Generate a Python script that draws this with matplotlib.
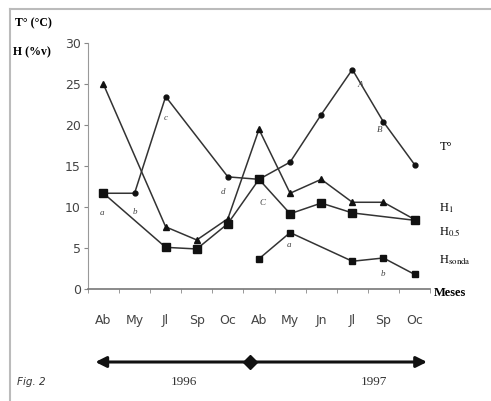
import numpy as np
import matplotlib
matplotlib.use("Agg")
import matplotlib.pyplot as plt
import matplotlib.transforms as mtrans
from matplotlib.lines import Line2D

plt.rcParams["mathtext.fontset"] = "stix"

months = ["Ab", "My", "Jl", "Sp", "Oc", "Ab", "My", "Jn", "Jl", "Sp", "Oc"]
nan = np.nan
temp = [11.7, 11.7, 23.5, nan, 13.7, 13.4, 15.5, 21.3, 26.8, 20.4, 15.2]
h1 = [25.0, nan, 7.6, 6.0, 8.6, 19.5, 11.7, 13.4, 10.6, 10.6, 8.5]
h05 = [11.7, nan, 5.1, 4.9, 8.0, 13.4, 9.2, 10.5, 9.3, nan, 8.4]
hsonda = [nan, nan, nan, nan, nan, 3.7, 6.9, nan, 3.4, 3.8, 1.8]

# small significance letters (label, x position, y value)
letters = [("a", -0.06, 9.3), ("b", 1.0, 9.4), ("c", 2.0, 20.9), ("d", 3.85, 11.8),
           ("C", 5.1, 10.5), ("a", 5.96, 5.4), ("b", 8.97, 1.8), ("A", 8.27, 24.9),
           ("B", 8.88, 19.4)]

fig = plt.figure(figsize=(4.91, 4.01), dpi=100)
ax = fig.add_axes([0.179, 0.279, 0.697, 0.613])
x = np.arange(len(months))

def draw(vals, marker, ms):
    v = np.array(vals, dtype=float)
    ok = ~np.isnan(v)
    ax.plot(x[ok], v[ok], color="#333333", lw=1.1, marker=marker, ms=ms,
            mfc="#111111", mec="#111111", clip_on=False)

draw(temp, "o", 3.5)
draw(h1, "^", 4.5)
draw(h05, "s", 5.5)
draw(hsonda, "s", 4)

for t, xi, yi in letters:
    ax.text(xi, yi, t, fontsize=6.5, family="Liberation Serif", color="#444444",
            ha="center", va="center", style="italic")

ax.set_xlim(-0.5, 10.5)
ax.set_ylim(0, 30)
ax.set_yticks(range(0, 31, 5))
ax.set_xticks(x)
ax.set_xticklabels(months)
ax.set_xticks(np.arange(-0.5, 11, 1), minor=True)
ax.tick_params(axis="x", which="major", length=0, pad=18, labelsize=9, labelcolor="#444444")
ax.tick_params(axis="x", which="minor", length=3, color="#888888")
ax.tick_params(axis="y", length=3, color="#888888", labelsize=9, labelcolor="#444444", pad=2)
for s in ["top", "right"]:
    ax.spines[s].set_visible(False)
ax.spines["left"].set_color("#999999")
ax.spines["bottom"].set_color("#777777")
ax.spines["bottom"].set_linewidth(1.2)

serif = "Liberation Serif"
ax.text(10.8, 17.3, "T°", fontsize=9, family=serif, va="center")
ax.text(10.8, 9.9, r"H$_\mathrm{1}$", fontsize=9, family=serif, va="center")
ax.text(10.8, 7.0, r"H$_\mathrm{0.5}$", fontsize=9, family=serif, va="center")
ax.text(10.8, 3.6, r"H$_\mathrm{sonda}$", fontsize=9, family=serif, va="center")
ax.text(10.62, -0.5, "Meses", fontsize=9, family=serif, weight="bold", va="center")

fig.text(15 / 491, 1 - 23 / 401, "T° (°C)", fontsize=8.5, family=serif, weight="bold", va="center")
fig.text(13 / 491, 1 - 52 / 401, "H (%v)", fontsize=8.5, family=serif, weight="bold", va="center")

# timeline arrow below the axis
blend = mtrans.blended_transform_factory(ax.transData, fig.transFigure)
ay = 1 - 362 / 401
ax.annotate("", xy=(10.4, ay), xytext=(-0.26, ay), xycoords=("data", "figure fraction"),
            textcoords=("data", "figure fraction"),
            arrowprops=dict(arrowstyle="<|-|>", lw=2.2, color="#111111", mutation_scale=16,
                            shrinkA=0, shrinkB=0))
ax.plot([4.7], [ay], marker="D", ms=7, color="#111111", transform=blend, clip_on=False)
ty = 1 - 382 / 401
ax.text(2.6, ty, "1996", fontsize=9.5, family=serif, ha="center", va="center", color="#333333",
        transform=blend)
ax.text(8.7, ty, "1997", fontsize=9.5, family=serif, ha="center", va="center", color="#333333",
        transform=blend)
fig.text(17 / 491, ty, "Fig. 2", fontsize=7.5, style="italic", va="center", color="#333333")

# page border
fig.add_artist(Line2D([10 / 491, 1], [1 - 9 / 401, 1 - 9 / 401], color="#bbbbbb", lw=1.5))
fig.add_artist(Line2D([10 / 491, 10 / 491], [0, 1 - 9 / 401], color="#bbbbbb", lw=1.5))

fig.savefig("out.png", dpi=100)
